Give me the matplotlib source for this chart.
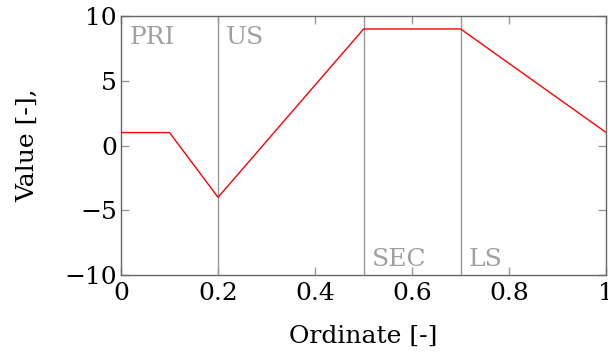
import matplotlib
matplotlib.use("Agg")
import matplotlib.pyplot as plt
from matplotlib.transforms import offset_copy

# curve
x_vals = [0.0, 0.1, 0.2, 0.5, 0.7, 1.0]
y_vals = [1, 1, -4, 9, 9, 1]

# region markers
region_x = [0.0, 0.2, 0.5, 0.7]
region_names = ["PRI", "US", "SEC", "LS"]
region_top = [True, True, False, False]
divider_x = [0.2, 0.5, 0.7]

x_ticks = [0, 0.2, 0.4, 0.6, 0.8, 1]
x_ticklabels = ["0", "0.2", "0.4", "0.6", "0.8", "1"]
y_ticks = [-10, -5, 0, 5, 10]
y_ticklabels = ["\u221210", "\u22125", "0", "5", "10"]


def main():
    plt.rcParams["font.family"] = ["DejaVu Serif"]
    plt.rcParams["mathtext.fontset"] = "dejavuserif"
    fig = plt.figure(figsize=(6.08, 3.56), dpi=100)
    ax = fig.add_axes([0.199, 0.2275, 0.798, 0.7275])

    axis_grey = "#666666"
    label_grey = "#a0a0a0"
    fs = 18

    for xv in divider_x:
        ax.axvline(xv, color="#999999", lw=1.0, zorder=1)

    ax.plot(x_vals, y_vals, color="red", lw=1.0, zorder=3)

    for xv, name, top in zip(region_x, region_names, region_top):
        if top:
            tr = offset_copy(ax.get_xaxis_transform(), fig=fig, x=6, y=-7, units="points")
            ax.text(xv, 1.0, name, transform=tr, ha="left", va="top",
                    color=label_grey, fontsize=fs)
        else:
            tr = offset_copy(ax.get_xaxis_transform(), fig=fig, x=6, y=3, units="points")
            ax.text(xv, 0.0, name, transform=tr, ha="left", va="bottom",
                    color=label_grey, fontsize=fs)

    ax.set_xlim(0, 1)
    ax.set_ylim(-10, 10)
    ax.set_xticks(x_ticks)
    ax.set_xticklabels(x_ticklabels)
    ax.set_yticks(y_ticks)
    ax.set_yticklabels(y_ticklabels)
    ax.tick_params(direction="in", length=6, width=1, color="#999999",
                   top=True, right=True, labelsize=fs)
    ax.tick_params(axis="x", pad=5)
    ax.tick_params(axis="y", pad=3)

    for s in ax.spines.values():
        s.set_color(axis_grey)
        s.set_linewidth(1.0)

    ax.set_xlabel("Ordinate [-]", fontsize=fs, labelpad=14)
    ax.set_ylabel("Value [-],", fontsize=fs, labelpad=18)

    fig.savefig("out.png", dpi=100)


if __name__ == "__main__":
    main()
